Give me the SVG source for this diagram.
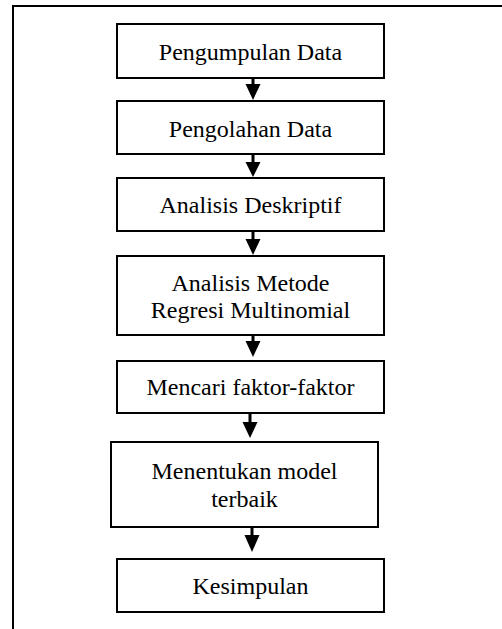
<svg xmlns="http://www.w3.org/2000/svg" width="502" height="629" viewBox="0 0 502 629">
<style>
.box{fill:#fff;stroke:#000;stroke-width:2}
.t{font-family:"Liberation Serif","Times New Roman",serif;font-size:24px;fill:#000;text-anchor:middle}
.shaft{stroke:#000;stroke-width:3}
.head{fill:#000}
</style>
<rect width="502" height="629" fill="#fff"/>
<path d="M13,640 L13,6 L520,6" fill="none" stroke="#000" stroke-width="2"/>
<g id="connectors">
<line class="shaft" x1="253" y1="78" x2="253" y2="86"/><polygon class="head" points="245.5,84 260.5,84 253,100"/>
<line class="shaft" x1="253" y1="154" x2="253" y2="164"/><polygon class="head" points="245.5,162 260.5,162 253,177"/>
<line class="shaft" x1="253" y1="231" x2="253" y2="241"/><polygon class="head" points="245.5,239 260.5,239 253,255"/>
<line class="shaft" x1="253" y1="335" x2="253" y2="343"/><polygon class="head" points="245.5,341 260.5,341 253,357"/>
<line class="shaft" x1="250" y1="413" x2="250" y2="424"/><polygon class="head" points="242.5,422 257.5,422 250,438"/>
<line class="shaft" x1="252" y1="527" x2="252" y2="537"/><polygon class="head" points="244.5,535 259.5,535 252,552"/>
</g>
<g id="n1"><rect class="box" x="117" y="24" width="267" height="54"/><text class="t" x="250.5" y="60">Pengumpulan Data</text></g>
<g id="n2"><rect class="box" x="117" y="101" width="267" height="53"/><text class="t" x="250.5" y="136.5">Pengolahan Data</text></g>
<g id="n3"><rect class="box" x="117" y="178" width="267" height="53"/><text class="t" x="250.5" y="213">Analisis Deskriptif</text></g>
<g id="n4"><rect class="box" x="117" y="256" width="267" height="79"/><text class="t" x="250.5" y="290.5">Analisis Metode</text><text class="t" x="250.5" y="318">Regresi Multinomial</text></g>
<g id="n5"><rect class="box" x="117" y="361" width="267" height="52"/><text class="t" x="250.5" y="395">Mencari faktor-faktor</text></g>
<g id="n6"><rect class="box" x="111" y="442" width="267" height="85"/><text class="t" x="244.5" y="479">Menentukan model</text><text class="t" x="244.5" y="507">terbaik</text></g>
<g id="n7"><rect class="box" x="117" y="559" width="267" height="53"/><text class="t" x="250.5" y="594">Kesimpulan</text></g>
</svg>
